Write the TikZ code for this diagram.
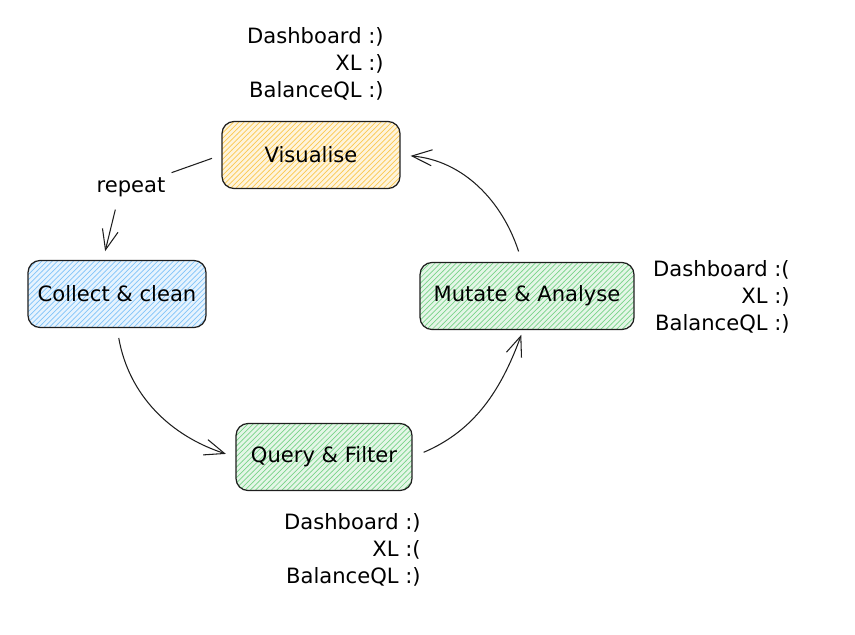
\documentclass[tikz,border=0pt]{standalone}
\usepackage{fontspec}
\setmainfont{DejaVu Sans}
\usetikzlibrary{arrows.meta,patterns}
\definecolor{ink}{HTML}{1E1E1E}
\definecolor{yellowhatch}{HTML}{FAB005}
\definecolor{bluehatch}{HTML}{4DABF7}
\definecolor{greenhatch}{HTML}{40C057}
\tikzset{
  stage/.style={draw=ink,line width=0.7pt,rounded corners=0.24cm,minimum height=1.34cm,
    font=\fontsize{12}{14}\selectfont},
  hatch/.style={preaction={fill=#1!14},pattern=north east lines,pattern color=#1!70},
  flow/.style={draw=ink,line width=0.6pt,-{Straight Barb[length=4mm,width=3.2mm]}},
  notes/.style={align=right,inner sep=0pt,font=\fontsize{12}{15.3}\selectfont}
}
\begin{document}
\begin{tikzpicture}[x=0.02cm,y=-0.02cm]
\useasboundingbox (0,0) rectangle (855,635);
\node[stage,hatch=yellowhatch,minimum width=3.56cm] (visualise) at (311,155) {Visualise};
\node[stage,hatch=bluehatch,minimum width=3.56cm] (collect) at (117,294) {Collect \& clean};
\node[stage,hatch=greenhatch,minimum width=4.28cm] (mutate) at (527,296) {Mutate \& Analyse};
\node[stage,hatch=greenhatch,minimum width=3.52cm] (query) at (324,457) {Query \& Filter};
\node[notes,anchor=north east] (visnotes) at (384,27) {Dashboard :)\\XL :)\\BalanceQL :)};
\node[notes,anchor=north east] (mutnotes) at (790,260) {Dashboard :(\\XL :)\\BalanceQL :)};
\node[notes,anchor=north east] (qrynotes) at (421,513) {Dashboard :)\\XL :(\\BalanceQL :)};
\node[font=\fontsize{12}{14}\selectfont] (repeat) at (131,187) {repeat};
\draw[draw=ink,line width=0.6pt,shorten <=0.2cm] (visualise.west) -- (repeat);
\draw[flow,shorten <=0.14cm,shorten >=0.18cm] ([xshift=-0.28cm]repeat.south) -- ([xshift=-0.28cm]collect.north);
\draw[flow,shorten <=0.2cm,shorten >=0.2cm] (collect.south) to[out=-80,in=162] (query.west);
\draw[flow,shorten <=0.24cm,shorten >=0.1cm] (query.east) to[out=23,in=-110] ([xshift=-0.08cm]mutate.south);
\draw[flow,shorten <=0.22cm,shorten >=0.2cm] ([xshift=-0.1cm]mutate.north) to[out=108,in=-5] (visualise.east);
\end{tikzpicture}
\end{document}
